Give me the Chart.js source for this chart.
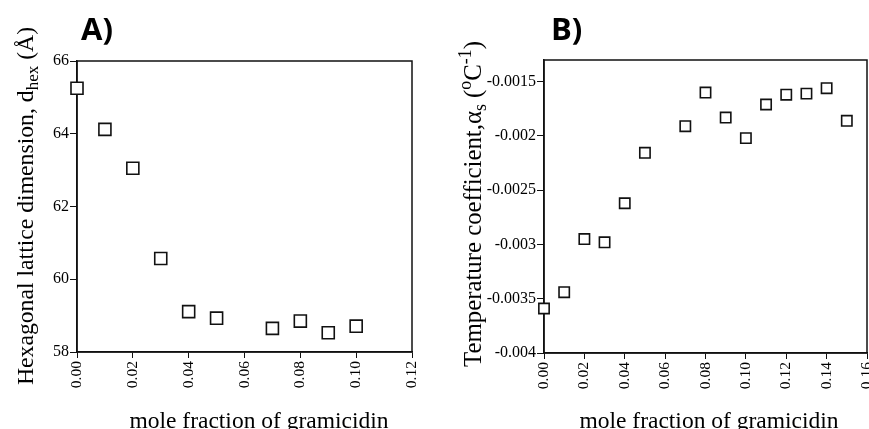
<!DOCTYPE html>
<html>
<head>
<meta charset="utf-8">
<script src="https://cdn.jsdelivr.net/npm/chart.js@4/dist/chart.umd.min.js"></script>
<style>
html,body{margin:0;padding:0;background:#fff;width:869px;height:429px;overflow:hidden;}
.wrap{position:absolute;top:0;height:429px;}
canvas{display:block;}
</style>
</head>
<body>
<div class="wrap" style="left:0;width:435px;"><canvas id="cA" width="435" height="429"></canvas></div>
<div class="wrap" style="left:435px;width:434px;"><canvas id="cB" width="434" height="429"></canvas></div>
<script>
// ---- Data ----
const molFracA = [0.00, 0.01, 0.02, 0.03, 0.04, 0.05, 0.07, 0.08, 0.09, 0.10];
const dHex     = [65.25, 64.12, 63.05, 60.57, 59.11, 58.93, 58.65, 58.85, 58.53, 58.71];
const molFracB = [0.00, 0.01, 0.02, 0.03, 0.04, 0.05, 0.07, 0.08, 0.09, 0.10, 0.11, 0.12, 0.13, 0.14, 0.15];
const alphaS   = [-0.00359, -0.00344, -0.00295, -0.00298, -0.00262, -0.002155, -0.00191, -0.0016, -0.00183, -0.00202, -0.00171, -0.00162, -0.00161, -0.00156, -0.00186];
const xTicksA = [0, 0.02, 0.04, 0.06, 0.08, 0.10, 0.12];
const yTicksA = [58, 60, 62, 64, 66];
const xTicksB = [0, 0.02, 0.04, 0.06, 0.08, 0.10, 0.12, 0.14, 0.16];
const yTicksB = [-0.004, -0.0035, -0.003, -0.0025, -0.002, -0.0015];
const xTitle = "mole fraction of gramicidin";
const yTitleA = [{t:"Hexagonal lattice dimension, d"},{t:"hex",sub:true},{t:" (Å)"}];
const yTitleB = [{t:"Temperature coefficient,α"},{t:"s",sub:true},{t:" ("},{t:"o",sup:true},{t:"C"},{t:"-1",sup:true},{t:")"}];

const SERIF = '"Liberation Serif", "Times New Roman", serif';

function richWidth(ctx, segs, size){
  let w = 0;
  for (const s of segs){
    const fs = (s.sub||s.sup) ? size*0.72 : size;
    ctx.font = fs + 'px ' + SERIF;
    w += ctx.measureText(s.t).width;
  }
  return w;
}
function drawRich(ctx, segs, size){
  let x = 0;
  for (const s of segs){
    const fs = (s.sub||s.sup) ? size*0.72 : size;
    ctx.font = fs + 'px ' + SERIF;
    const dy = s.sub ? size*0.22 : (s.sup ? -size*0.42 : 0);
    ctx.fillText(s.t, x, dy);
    x += ctx.measureText(s.t).width;
  }
}

function decoPlugin(cfg){
  return {
    id: 'deco',
    beforeDatasetsDraw(chart){
      const ctx = chart.ctx, a = chart.chartArea;
      ctx.save();
      ctx.strokeStyle = '#111';
      ctx.lineWidth = 1.5;
      ctx.strokeRect(a.left, a.top, a.right - a.left, a.bottom - a.top);
      ctx.restore();
    },
    afterDraw(chart){
      const ctx = chart.ctx;
      ctx.save();
      ctx.fillStyle = '#000';
      ctx.textBaseline = 'alphabetic';
      ctx.font = 'bold ' + cfg.labelSize + 'px "Open Sans", sans-serif';
      ctx.textAlign = 'left';
      ctx.fillText(cfg.label, cfg.labelX, cfg.labelY);
      ctx.font = cfg.xTitleSize + 'px ' + SERIF;
      ctx.textAlign = 'center';
      ctx.fillText(xTitle, cfg.xTitleX, cfg.xTitleY);
      ctx.textAlign = 'left';
      const w = richWidth(ctx, cfg.yTitle, cfg.yTitleSize);
      ctx.translate(cfg.yTitleX, cfg.yTitleCY);
      ctx.rotate(-Math.PI/2);
      ctx.translate(-w/2, 0);
      drawRich(ctx, cfg.yTitle, cfg.yTitleSize);
      ctx.restore();
    }
  };
}

function makeChart(id, xs, ys, xt, yt, xmin, xmax, ymin, ymax, yw, xh, pad, radius, yFmt, deco){
  const pts = xs.map((x,i)=>({x:x, y:ys[i]}));
  return new Chart(document.getElementById(id), {
    type: 'scatter',
    data: { datasets: [{
      data: pts,
      pointStyle: 'rect',
      pointRadius: radius,
      pointHoverRadius: radius,
      pointBorderWidth: 1.6,
      pointBorderColor: '#111',
      pointBackgroundColor: '#fff',
      clip: false
    }]},
    options: {
      responsive: false,
      animation: false,
      devicePixelRatio: 1,
      layout: { padding: pad, autoPadding: false },
      plugins: { legend: {display:false}, tooltip: {enabled:false} },
      scales: {
        x: {
          type: 'linear', min: xmin, max: xmax,
          afterBuildTicks: s => { s.ticks = xt.map(v=>({value:v})); },
          afterFit: s => { s.height = xh; s.paddingLeft = 0; s.paddingRight = 0; },
          ticks: {
            callback: v => Number(v).toFixed(2),
            minRotation: 90, maxRotation: 90, autoSkip: false,
            padding: 3, color: '#000',
            font: { family: SERIF, size: 15.5 }
          },
          grid: { drawOnChartArea: false, tickLength: 6, tickColor: '#111', tickWidth: 1 },
          border: { display: true, color: '#111', width: 1.5 }
        },
        y: {
          type: 'linear', min: ymin, max: ymax,
          afterBuildTicks: s => { s.ticks = yt.map(v=>({value:v})); },
          afterFit: s => { s.width = yw; s.paddingTop = 0; s.paddingBottom = 0; },
          ticks: {
            callback: yFmt, autoSkip: false,
            padding: 1, color: '#000',
            font: { family: SERIF, size: 16 }
          },
          grid: { drawOnChartArea: false, tickLength: 7, tickColor: '#111', tickWidth: 1 },
          border: { display: true, color: '#111', width: 1.5 }
        }
      }
    },
    plugins: [decoPlugin(deco)]
  });
}

makeChart('cA', molFracA, dHex, xTicksA, yTicksA, 0, 0.12, 58, 66, 77, 77,
  {left:0, top:61, right:23, bottom:0}, 8.5,
  v => String(Math.round(v)),
  {label:'A)', labelX:81, labelY:40, labelSize:31, xTitleSize:23.5, yTitleSize:23.7,
   xTitleX:259, xTitleY:428, yTitle:yTitleA, yTitleX:33, yTitleCY:206});

makeChart('cB', molFracB, alphaS, xTicksB, yTicksB, 0, 0.16, -0.004, -0.0013, 109, 76,
  {left:0, top:60, right:2, bottom:0}, 7.3,
  v => String(Number(Number(v).toFixed(4))),
  {label:'B)', labelX:116, labelY:40, labelSize:31, xTitleSize:23.5, yTitleSize:24.8,
   xTitleX:274, xTitleY:428, yTitle:yTitleB, yTitleX:46, yTitleCY:204});
</script>
</body>
</html>
